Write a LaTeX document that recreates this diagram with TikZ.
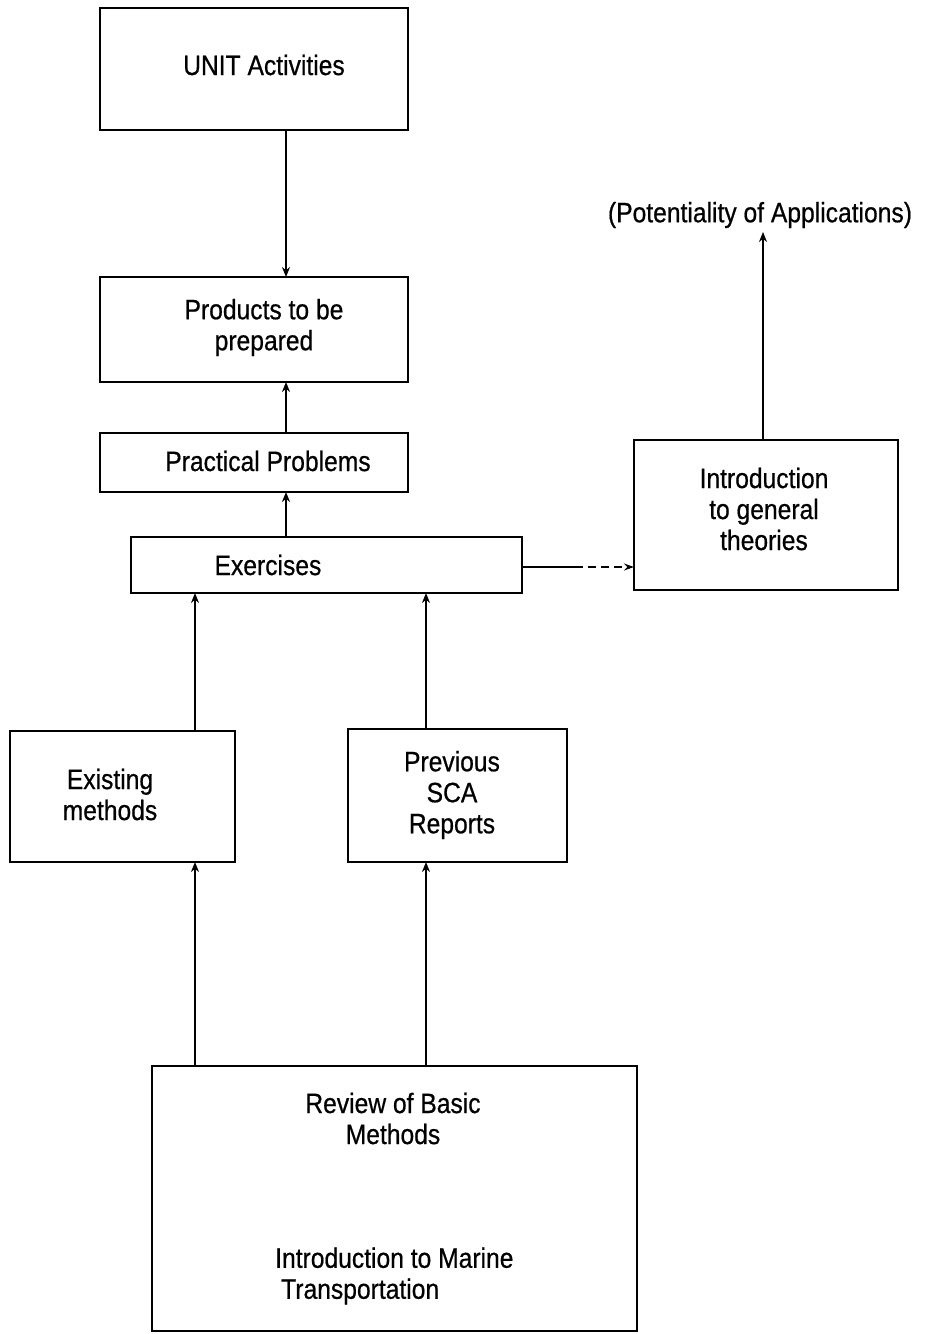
\documentclass[tikz,border=0pt]{standalone}
\usepackage{fontspec}
\setmainfont{Liberation Sans}[FakeStretch=0.88,FakeBold=0.6]
\usetikzlibrary{arrows.meta}
\tikzset{
  box/.style={draw, line width=1.8pt, inner sep=0pt, outer sep=0pt},
  lbl/.style={font=\fontsize{28}{31}\selectfont, align=center, inner sep=0pt},
  arr/.style={line width=2.8pt, -{Stealth[length=10pt,width=8pt]}},
  thinarr/.style={line width=1.2pt, -{Stealth[length=10pt,width=7pt]}},
}
\begin{document}
\begin{tikzpicture}[x=1pt,y=-1pt]
\useasboundingbox (0,0) rectangle (926,1334);
% boxes
\node[box, minimum width=308pt, minimum height=122pt] (unit) at (254,69) {};
\node[box, minimum width=308pt, minimum height=105pt] (prod) at (254,329.5) {};
\node[box, minimum width=308pt, minimum height=59pt] (prac) at (254,462.5) {};
\node[box, minimum width=391pt, minimum height=56pt] (exer) at (326.5,565) {};
\node[box, minimum width=264pt, minimum height=150pt] (intro) at (766,515) {};
\node[box, minimum width=225pt, minimum height=131pt] (exist) at (122.5,796.5) {};
\node[box, minimum width=219pt, minimum height=133pt] (prev) at (457.5,795.5) {};
\node[box, minimum width=485pt, minimum height=265pt] (review) at (394.5,1198.5) {};
% labels
\node[lbl] (tunit) at (264,65) {UNIT Activities};
\node[lbl] (tprod) at (264,327.5) {Products to be\\prepared};
\node[lbl] (tprac) at (268,461) {Practical Problems};
\node[lbl] (texer) at (268,565) {Exercises};
\node[lbl] (tintro) at (764,509) {Introduction\\to general\\theories};
\node[lbl] (tpot) at (760,215) {(Potentiality of Applications)};
\node[lbl] (texist) at (110,794.5) {Existing\\methods};
\node[lbl] (tprev) at (452,795) {Previous\\SCA\\Reports};
\node[lbl] (trev) at (393,1118.5) {Review of Basic\\Methods};
\node[lbl, align=left, anchor=west] (tmar) at (275,1276) {Introduction to Marine\\\hspace*{6pt}Transportation};
\coordinate (potbase) at (763,232);
\coordinate (dashstart) at (575,567);
\coordinate (xl) at (195,0);
\coordinate (xr) at (426,0);
\coordinate (xm) at (286,0);
% connectors
\draw[arr] (unit.south -| xm) -- (prod.north -| xm);
\draw[arr] (prac.north -| xm) -- (prod.south -| xm);
\draw[arr] (exer.north -| xm) -- (prac.south -| xm);
\draw[arr] (exist.north -| xl) -- (exer.south -| xl);
\draw[arr] (prev.north -| xr) -- (exer.south -| xr);
\draw[arr] (review.north -| xl) -- (exist.south -| xl);
\draw[arr] (review.north -| xr) -- (prev.south -| xr);
\draw[arr] (intro.north -| potbase) -- (potbase);
\draw[line width=1.2pt] (exer.east |- dashstart) -- (dashstart);
\draw[thinarr, dash pattern=on 8pt off 5pt] (dashstart) -- (intro.west |- dashstart);
\end{tikzpicture}
\end{document}
